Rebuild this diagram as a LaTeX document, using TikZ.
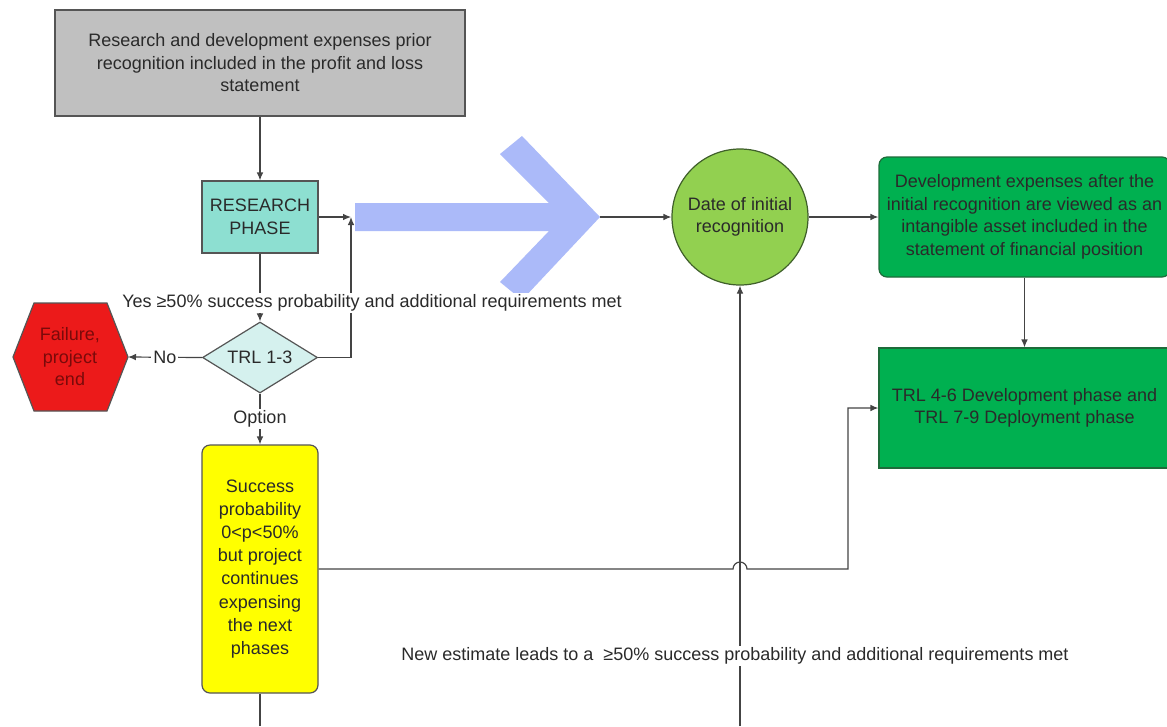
\documentclass[tikz,border=0pt]{standalone}
\usepackage{fontspec}
\setmainfont{Liberation Sans}
\usetikzlibrary{shapes.geometric,arrows.meta}
\definecolor{edgegray}{HTML}{555555}
\definecolor{linegray}{HTML}{444444}
\definecolor{txt}{HTML}{2A2A2A}
\definecolor{graybox}{HTML}{C0C0C0}
\definecolor{tealbox}{HTML}{8DDFD1}
\definecolor{diafill}{HTML}{D5F1EE}
\definecolor{redfill}{HTML}{EC1A1A}
\definecolor{redtxt}{HTML}{7A0A0A}
\definecolor{yelfill}{HTML}{FFFF00}
\definecolor{circfill}{HTML}{92D050}
\definecolor{circedge}{HTML}{3F5F2A}
\definecolor{greenfill}{HTML}{00B050}
\definecolor{greenedge}{HTML}{1E6B3A}
\definecolor{chevfill}{HTML}{ABBAF9}
\begin{document}
\begin{tikzpicture}[x=0.75pt,y=-0.75pt,
  box/.style={draw=edgegray, line width=0.9pt, text=txt, align=center, inner sep=0pt,
    font=\fontsize{13.5}{16.9}\selectfont},
  conn/.style={draw=linegray, line width=0.9pt},
  arr/.style={conn, -{Latex[length=6pt,width=5pt]}},
  lbl/.style={text=txt, inner sep=1.5pt, font=\fontsize{13.5}{16.9}\selectfont}]
\useasboundingbox[fill=white] (0,0) rectangle (1167,726);

% big chevron arrow
\fill[chevfill] (355,203) -- (549,203) -- (500,154) -- (522,136) -- (600,217)
  -- (522,300) -- (500,282) -- (549,231) -- (355,231) -- cycle;
\coordinate (tip) at (600,217);
\coordinate (j) at (351,217);
\coordinate (bottom) at (0,726);
\coordinate (hopL) at (733,0);
\coordinate (turn) at (848,0);

% nodes
\node[box, fill=graybox, minimum width=410*0.75pt, minimum height=106*0.75pt] (top) at (260,63)
  {Research and development expenses prior\\recognition included in the profit and loss\\statement};
\node[box, fill=tealbox, minimum width=116*0.75pt, minimum height=72*0.75pt] (research) at (260,217)
  {RESEARCH\\PHASE};
\node[box, shape=diamond, shape aspect=1.6, fill=diafill, minimum width=115*0.75pt, minimum height=71*0.75pt] (diamond) at (260,357.5)
  {TRL 1-3};
\draw[draw=edgegray, line width=0.9pt, fill=redfill] (13,357) -- (34,303) -- (107,303) -- (128,357) -- (107,411) -- (34,411) -- cycle;
\node[box, draw=none, text=redtxt] (fail) at (70,357) {Failure,\\project\\end};
\coordinate (failE) at (128,357);
\node[box, fill=yelfill, rounded corners=6pt, minimum width=116*0.75pt, minimum height=248*0.75pt,
  font=\fontsize{13.5}{17.3}\selectfont] (yellow) at (260,569)
  {Success\\probability\\0<p<50\%\\but project\\continues\\expensing\\the next\\phases};
\node[box, shape=circle, draw=circedge, fill=circfill, minimum size=136*0.75pt] (circ) at (740,217)
  {Date of initial\\recognition};
\node[box, draw=greenedge, fill=greenfill, rounded corners=6pt, minimum width=291*0.75pt, minimum height=120*0.75pt] (green1) at (1024.5,217)
  {Development expenses after the\\initial recognition are viewed as an\\intangible asset included in the\\statement of financial position};
\node[box, draw=greenedge, fill=greenfill, minimum width=291*0.75pt, minimum height=120*0.75pt] (green2) at (1024.5,408)
  {TRL 4-6 Development phase and\\TRL 7-9 Deployment phase};

% connectors
\draw[arr] (top) -- (research);
\draw[arr] (research.east) -- (j);
\draw[arr] (diamond.east) -| (j);
\draw[arr] (research) -- (diamond);
\draw[arr] (diamond.west) -- node[lbl, fill=white] (no) {No} (failE);
\draw[arr] (diamond) -- node[lbl, fill=white] (opt) {Option} (yellow);
\draw[conn] (yellow.south) -- (yellow.south |- bottom);
\draw[arr] (tip) -- (circ);
\draw[arr] (circ) -- (green1);
\draw[arr] (green1) -- (green2);
\draw[arr] (circ.south |- bottom) -- (circ.south);
\draw[arr] (yellow.east) -- (yellow.east -| hopL) arc[start angle=180, end angle=0, radius=5.25pt]
  -- (yellow.east -| turn) |- (green2.west);

% labels
\node[lbl, fill=white] (yes) at (372,303) {Yes ≥50\% success probability and additional requirements met};
\node[lbl, fill=white] (newest) at (735,656) {New estimate leads to a~ ≥50\% success probability and additional requirements met};
\end{tikzpicture}
\end{document}
